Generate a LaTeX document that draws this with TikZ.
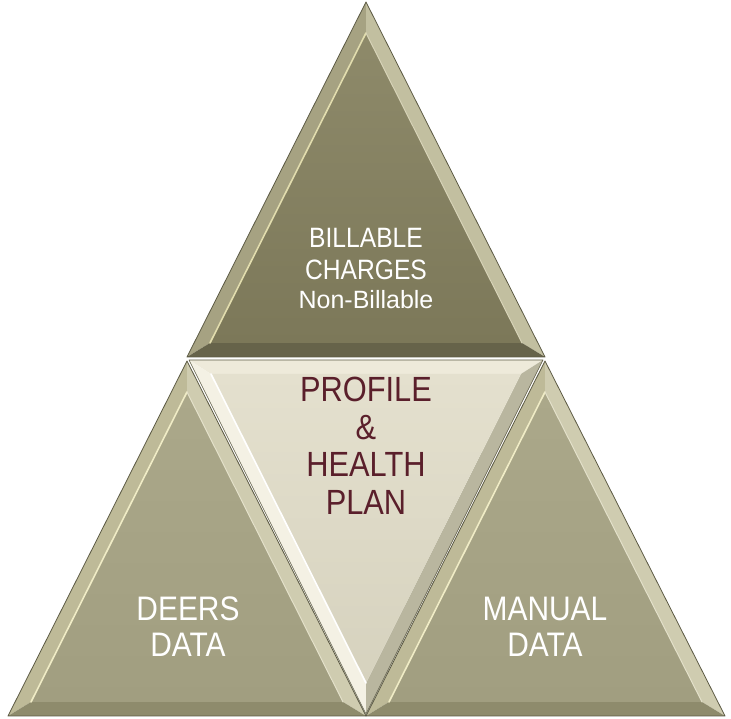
\documentclass[tikz,border=0pt]{standalone}
\usepackage{fontspec}
\setmainfont{Liberation Sans}[FakeStretch=0.88]
\newfontfamily\widefont{Liberation Sans}
\definecolor{topface}{HTML}{7C7859}
\definecolor{topfacelt}{HTML}{8E8A6A}
\definecolor{sideface}{HTML}{A19E80}
\definecolor{sidefacelt}{HTML}{ABA88A}
\definecolor{midface}{HTML}{E4E0CE}
\definecolor{midfacedk}{HTML}{D6D2BE}
\definecolor{edgedk}{HTML}{5C5A44}
\definecolor{maroon}{HTML}{5A1F2B}
\definecolor{tleft}{HTML}{A6A282}
\definecolor{tright}{HTML}{C2BFA0}
\definecolor{tbot}{HTML}{66634A}
\definecolor{thl}{HTML}{E2DDAE}
\definecolor{thr}{HTML}{D8D4B8}
\definecolor{sleft}{HTML}{BEBA98}
\definecolor{sright}{HTML}{CFCCB0}
\definecolor{sbot}{HTML}{8E8B6C}
\definecolor{shl}{HTML}{F0ECC6}
\definecolor{shr}{HTML}{E4E1CA}
\definecolor{ctop}{HTML}{EEEADA}
\definecolor{cleft}{HTML}{F4F1E4}
\definecolor{cright}{HTML}{B9B69F}
\begin{document}
\begin{tikzpicture}[x=1pt,y=1pt,
  outline/.style={draw=edgedk,line width=0.8pt,line join=round},
  hl/.style={line width=1.6pt,line cap=round},
  wtxt/.style={text=white,align=center,inner sep=0pt},
  mtxt/.style={text=maroon,align=center,inner sep=0pt}]
\useasboundingbox (0,0) rectangle (731,719);
% ---------- top triangle ----------
\coordinate (TA) at (366,717); \coordinate (TB) at (187,362); \coordinate (TC) at (545,362);
\coordinate (ta) at (366,686); \coordinate (tb) at (210,376); \coordinate (tc) at (522,376);
\fill[tleft] (TA)--(TB)--(tb)--(ta)--cycle;
\fill[tright] (TA)--(TC)--(tc)--(ta)--cycle;
\fill[tbot] (TB)--(TC)--(tc)--(tb)--cycle;
\shade[top color=topfacelt,bottom color=topface] (ta)--(tb)--(tc)--cycle;
\draw[hl,thl] (ta)--(tb);
\draw[hl,line width=1pt,thr] (ta)--(tc);
\draw[outline] (TA)--(TB)--(TC)--cycle;
% ---------- bottom-left triangle ----------
\coordinate (LA) at (187,358); \coordinate (LB) at (8,3); \coordinate (LC) at (366,3);
\coordinate (la) at (187,327); \coordinate (lb) at (31,17); \coordinate (lc) at (343,17);
\fill[sleft] (LA)--(LB)--(lb)--(la)--cycle;
\fill[sright] (LA)--(LC)--(lc)--(la)--cycle;
\fill[sbot] (LB)--(LC)--(lc)--(lb)--cycle;
\shade[top color=sidefacelt,bottom color=sideface] (la)--(lb)--(lc)--cycle;
\draw[hl,shl] (la)--(lb);
\draw[hl,line width=1pt,shr] (la)--(lc);
\draw[outline] (LA)--(LB)--(LC)--cycle;
% ---------- bottom-right triangle ----------
\coordinate (RA) at (545,358); \coordinate (RB) at (366,3); \coordinate (RC) at (725,3);
\coordinate (ra) at (545,327); \coordinate (rb) at (389,17); \coordinate (rc) at (702,17);
\fill[sleft] (RA)--(RB)--(rb)--(ra)--cycle;
\fill[sright] (RA)--(RC)--(rc)--(ra)--cycle;
\fill[sbot] (RB)--(RC)--(rc)--(rb)--cycle;
\shade[top color=sidefacelt,bottom color=sideface] (ra)--(rb)--(rc)--cycle;
\draw[hl,shl] (ra)--(rb);
\draw[hl,line width=1pt,shr] (ra)--(rc);
\draw[outline] (RA)--(RB)--(RC)--cycle;
% ---------- central inverted triangle ----------
\coordinate (CL) at (189,359); \coordinate (CR) at (543,359); \coordinate (CB) at (366,5);
\coordinate (cl) at (211,345); \coordinate (cr) at (521,345); \coordinate (cb) at (366,36);
\fill[ctop] (CL)--(CR)--(cr)--(cl)--cycle;
\fill[cleft] (CL)--(CB)--(cb)--(cl)--cycle;
\fill[cright] (CR)--(CB)--(cb)--(cr)--cycle;
\shade[top color=midface,bottom color=midfacedk] (cl)--(cr)--(cb)--cycle;
\draw[hl,white] (cl)--(cb);
\draw[outline,line width=0.6pt] (CL)--(CR)--(CB)--cycle;
% ---------- texts ----------
\node[wtxt,font=\fontsize{28}{31.5}\selectfont] (billable) at (366,465) {BILLABLE\\CHARGES};
\node[wtxt,font=\widefont\fontsize{25}{27}\selectfont,anchor=base] (nonbill) at (366,410) {Non-Billable};
\node[mtxt,font=\fontsize{35}{37.5}\selectfont] (profile) at (366,273) {PROFILE\\\&\\HEALTH\\PLAN};
\node[wtxt,font=\fontsize{34}{36}\selectfont] (deers) at (188,92) {DEERS\\DATA};
\node[wtxt,font=\fontsize{34}{36}\selectfont] (manual) at (545,92) {MANUAL\\DATA};
\end{tikzpicture}
\end{document}
